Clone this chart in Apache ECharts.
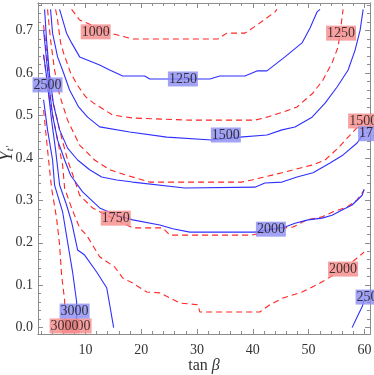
<!DOCTYPE html>
<html>
<head>
<meta charset="utf-8">
<script src="https://cdn.jsdelivr.net/npm/echarts@6/dist/echarts.min.js"></script>
<style>
  html, body { margin: 0; padding: 0; background: #fff; }
  #chart { width: 374px; height: 375px; }
</style>
</head>
<body>
<div id="chart"></div>
<script>
// axis ranges and ticks
const X_MIN = 1.5, X_MAX = 61;
const Y_MIN = -0.015, Y_MAX = 0.765;
const xMajor = [10, 20, 30, 40, 50, 60];
const xMinor = [2, 4, 6, 8, 12, 14, 16, 18, 22, 24, 26, 28, 32, 34, 36, 38, 42, 44, 46, 48, 52, 54, 56, 58];
const yMajor = [0, 0.1, 0.2, 0.3, 0.4, 0.5, 0.6, 0.7];
const yMinor = [0.02, 0.04, 0.06, 0.08, 0.12, 0.14, 0.16, 0.18, 0.22, 0.24, 0.26, 0.28, 0.32, 0.34, 0.36, 0.38,
  0.42, 0.44, 0.46, 0.48, 0.52, 0.54, 0.56, 0.58, 0.62, 0.64, 0.66, 0.68, 0.72, 0.74, 0.76];

// blue (solid) contours
const blue1250 = [[5.37,0.75],[6.62,0.694],[7.52,0.671],[8.96,0.638],[12.55,0.619],[14.35,0.607],[16.68,0.593],[20.63,0.593],[21.53,0.586],[32.30,0.586],[34.09,0.593],[38.58,0.593],[40.74,0.605],[42.53,0.605],[45.76,0.638],[48.82,0.671],[50.25,0.706],[51.51,0.744],[52.05,0.75]];
const blue1500 = [[3.75,0.75],[4.11,0.694],[5.01,0.638],[6.09,0.600],[7.16,0.560],[8.78,0.520],[10.39,0.496],[12.55,0.473],[17.94,0.461],[24.58,0.449],[32.66,0.442],[37.68,0.449],[42.53,0.454],[45.23,0.466],[47.56,0.473],[50.61,0.496],[52.95,0.529],[55.10,0.567],[57.08,0.607],[58.33,0.654],[59.23,0.701],[59.77,0.75]];
const blue1750 = [[2.68,0.75],[3.03,0.678],[3.57,0.595],[4.29,0.525],[5.37,0.466],[6.80,0.423],[8.60,0.395],[10.75,0.372],[12.91,0.355],[15.60,0.348],[18.47,0.343],[27.81,0.329],[40.38,0.331],[42.17,0.341],[45.23,0.343],[47.92,0.355],[50.79,0.365],[53.84,0.388],[56.18,0.407],[58.69,0.435],[59.95,0.459]];
const blue2000 = [[2.50,0.701],[3.03,0.631],[3.57,0.560],[4.11,0.501],[5.01,0.442],[6.27,0.395],[7.34,0.359],[8.60,0.336],[9.50,0.320],[12.55,0.282],[15.60,0.265],[18.47,0.254],[23.32,0.242],[25.65,0.233],[28.71,0.225],[40.38,0.225],[45.76,0.237],[47.56,0.246],[49.89,0.254],[52.41,0.258],[54.20,0.265],[56.00,0.277],[57.79,0.289],[59.59,0.312],[59.95,0.326]];
const blue2500 = [[2.50,0.643],[2.85,0.610],[3.21,0.572],[3.93,0.489],[4.65,0.419],[5.37,0.336],[6.62,0.289],[7.52,0.249],[8.60,0.183],[9.86,0.171],[12.01,0.131],[13.81,0.094],[14.35,0.054],[15.06,0.0]];
const blue2500b = [[57.79,0.0],[58.69,0.025],[59.59,0.049],[59.95,0.065]];
const blue3000 = [[2.50,0.537],[3.21,0.466],[4.11,0.395],[4.47,0.336],[5.91,0.273],[6.80,0.202],[7.70,0.131],[8.42,0.061],[8.42,0.0]];

// red (dashed) contours
const red1000 = [[7.52,0.75],[8.96,0.725],[14.52,0.694],[18.47,0.680],[33.73,0.680],[35.35,0.694],[38.58,0.694],[40.74,0.713],[43.97,0.744],[44.33,0.75]];
const red1250 = [[4.65,0.75],[5.01,0.725],[5.55,0.671],[6.09,0.647],[7.34,0.600],[8.78,0.567],[10.04,0.544],[11.47,0.529],[14.88,0.501],[18.47,0.494],[28.71,0.489],[40.38,0.489],[42.53,0.496],[45.41,0.508],[47.92,0.520],[50.79,0.553],[52.59,0.584],[54.20,0.624],[55.28,0.661],[55.82,0.713],[56.18,0.75]];
const red1500 = [[3.21,0.75],[3.75,0.678],[4.47,0.607],[5.37,0.548],[6.80,0.489],[8.96,0.430],[11.65,0.395],[14.35,0.372],[17.40,0.359],[21.53,0.343],[38.04,0.343],[39.84,0.348],[45.23,0.365],[50.61,0.383],[52.95,0.395],[55.28,0.423],[57.79,0.459],[59.95,0.489]];
const red1750 = [[2.50,0.713],[3.21,0.631],[4.11,0.537],[5.37,0.466],[6.80,0.395],[8.06,0.348],[8.96,0.312],[11.29,0.282],[12.55,0.273],[18.47,0.235],[23.86,0.235],[25.12,0.218],[39.84,0.218],[41.63,0.223],[43.97,0.233],[47.20,0.237],[49.71,0.254],[52.41,0.261],[54.38,0.273],[56.90,0.284],[58.69,0.301],[59.95,0.324]];
const red2000 = [[2.50,0.643],[3.57,0.537],[4.83,0.454],[5.91,0.383],[6.27,0.329],[7.52,0.282],[8.96,0.235],[10.20,0.218],[12.55,0.167],[15.24,0.143],[16.68,0.117],[18.47,0.105],[20.99,0.084],[23.32,0.082],[26.91,0.058],[30.14,0.054],[30.50,0.037],[41.27,0.037],[43.07,0.054],[45.41,0.070],[48.82,0.084],[52.05,0.105],[56.18,0.138],[58.69,0.164],[59.95,0.178]];
const red3000 = [[2.50,0.513],[3.21,0.419],[3.93,0.329],[4.83,0.258],[5.37,0.195],[5.73,0.124],[6.27,0.065],[6.45,0.0]];

// contour labels [x, y, text]
const redLabels = [[11.84,0.697,'1000'],[55.82,0.694,'1250'],[59.77,0.487,'1500'],[15.43,0.258,'1750'],[56.17,0.138,'2000'],[8.42,0.004,'3000'],[6.27,0.004,'3000']];
const blueLabels = [[27.47,0.586,'1250'],[35.17,0.454,'1500'],[3.21,0.572,'2500'],[61.55,0.457,'1750'],[43.24,0.232,'2000'],[61.1,0.072,'2500'],[8.06,0.039,'3000']];

const FRAME = '#8c8c8c';
const FONT = 'Liberation Serif';
const BLUE = '#2f2fff';
const RED = '#ff2424';

function xAx(position, ticks, len, labels) {
  return {
    type: 'value', position: position, min: X_MIN, max: X_MAX,
    axisLine: { show: true, onZero: false, lineStyle: { color: FRAME } },
    axisTick: { show: true, inside: true, length: len, customValues: ticks, lineStyle: { color: FRAME } },
    axisLabel: labels ? { show: true, customValues: xMajor, margin: 9, color: '#333', fontFamily: FONT, fontSize: 14 } : { show: false },
    splitLine: { show: false }
  };
}
function yAx(position, ticks, len, labels) {
  return {
    type: 'value', position: position, min: Y_MIN, max: Y_MAX,
    axisLine: { show: true, onZero: false, lineStyle: { color: FRAME } },
    axisTick: { show: true, inside: true, length: len, customValues: ticks, lineStyle: { color: FRAME } },
    axisLabel: labels ? { show: true, customValues: yMajor, margin: 5, color: '#333', fontFamily: FONT, fontSize: 14,
      formatter: v => v.toFixed(1) } : { show: false },
    splitLine: { show: false }
  };
}

const xAxes = [xAx('bottom', xMajor, 5, true), xAx('bottom', xMinor, 3, false), xAx('top', xMajor, 5, false), xAx('top', xMinor, 3, false)];
xAxes[0].name = '{a|tan }{b|β}';
xAxes[0].nameLocation = 'middle';
xAxes[0].nameGap = 24;
xAxes[0].nameMoveOverlap = false;
xAxes[0].nameTextStyle = { rich: { a: { fontFamily: FONT, fontSize: 16, color: '#333' }, b: { fontFamily: FONT, fontSize: 16, fontStyle: 'italic', color: '#333' } } };

const yAxes = [yAx('left', yMajor, 5, true), yAx('left', yMinor, 3, false), yAx('right', yMajor, 5, false), yAx('right', yMinor, 3, false)];
yAxes[0].name = '{y|Y}{s|t′}';
yAxes[0].nameLocation = 'middle';
yAxes[0].nameRotate = 90;
yAxes[0].nameGap = 22;
yAxes[0].nameMoveOverlap = false;
yAxes[0].nameTextStyle = { padding: [0, 0, 0, 30], rich: {
  y: { fontFamily: FONT, fontSize: 18, fontStyle: 'italic', color: '#333' },
  s: { fontFamily: FONT, fontSize: 11, fontStyle: 'italic', color: '#333', verticalAlign: 'bottom' }
} };

function contour(data, color, dashed) {
  return {
    type: 'line', data: data, showSymbol: false, symbol: 'none', silent: true, z: 2,
    lineStyle: { color: color, width: 1.1, type: dashed ? [6, 4] : 'solid' }
  };
}
function labelSeries(data, bg, z) {
  return {
    type: 'scatter', data: data, symbolSize: 0, clip: false, silent: true, z: z,
    label: {
      show: true, position: 'inside', formatter: p => p.value[2],
      fontFamily: FONT, fontSize: 14, color: '#111',
      backgroundColor: bg, padding: [1, 1, 0, 1]
    }
  };
}

const chart = echarts.init(document.getElementById('chart'));
chart.setOption({
  animation: false,
  grid: { left: 38, right: 4, top: 3, bottom: 41, containLabel: false, outerBoundsMode: 'none' },
  xAxis: xAxes,
  yAxis: yAxes,
  series: [
    contour(red1000, RED, true),
    contour(red1250, RED, true),
    contour(red1500, RED, true),
    contour(red1750, RED, true),
    contour(red2000, RED, true),
    contour(red3000, RED, true),
    contour(blue1250, BLUE, false),
    contour(blue1500, BLUE, false),
    contour(blue1750, BLUE, false),
    contour(blue2000, BLUE, false),
    contour(blue2500, BLUE, false),
    contour(blue2500b, BLUE, false),
    contour(blue3000, BLUE, false),
    labelSeries(redLabels, '#f58a8a', 5),
    labelSeries(blueLabels, '#8c8cf2', 6)
  ]
});
</script>
</body>
</html>
